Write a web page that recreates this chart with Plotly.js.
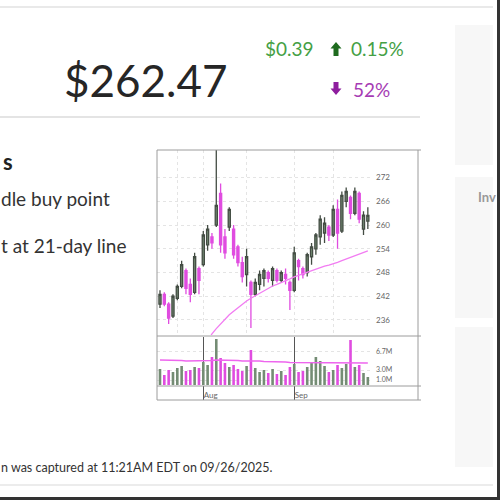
<!DOCTYPE html>
<html>
<head>
<meta charset="utf-8">
<script src="https://cdn.plot.ly/plotly-3.0.1.min.js"></script>
<style>
  html, body { margin: 0; padding: 0; background: #fff; overflow: hidden; }
  #chart { width: 500px; height: 500px; }
</style>
</head>
<body>
<div id="chart"></div>
<script>
// Trading days shown on the daily chart
const dates = [
  "2025-07-18","2025-07-21","2025-07-22","2025-07-23","2025-07-24","2025-07-25",
  "2025-07-28","2025-07-29","2025-07-30","2025-07-31",
  "2025-08-01","2025-08-04","2025-08-05","2025-08-06","2025-08-07","2025-08-08",
  "2025-08-11","2025-08-12","2025-08-13","2025-08-14","2025-08-15",
  "2025-08-18","2025-08-19","2025-08-20","2025-08-21","2025-08-22",
  "2025-08-25","2025-08-26","2025-08-27","2025-08-28","2025-08-29",
  "2025-09-02","2025-09-03","2025-09-04","2025-09-05",
  "2025-09-08","2025-09-09","2025-09-10","2025-09-11","2025-09-12",
  "2025-09-15","2025-09-16","2025-09-17","2025-09-18","2025-09-19",
  "2025-09-22","2025-09-23","2025-09-24","2025-09-25"
];

// Daily prices (USD)
const openPx  = [240.0,242.5,240.0,237.0,241.5,244.5,248.5,245.0,243.0,249.0,250.0,255.0,257.0,260.0,268.0,257.0,259.5,259.0,254.5,250.5,247.5,245.5,242.5,245.0,246.5,248.0,246.0,248.5,246.0,247.5,245.5,243.5,251.0,249.0,248.0,252.0,254.0,257.0,258.0,259.5,257.5,264.0,258.5,266.0,267.0,263.0,268.0,259.0,261.0];
const highPx  = [243.5,243.0,240.5,242.5,245.0,251.0,249.0,246.5,253.0,249.5,258.5,260.0,258.0,279.5,270.5,259.0,264.5,260.0,255.0,252.0,254.0,246.0,246.5,248.5,249.0,248.5,249.5,249.0,248.5,249.0,246.0,254.5,251.5,249.5,253.0,255.5,258.0,262.5,262.0,260.0,265.0,266.5,268.5,269.5,267.5,269.5,268.5,263.5,264.5];
const lowPx   = [239.0,239.5,235.0,236.5,241.0,244.0,242.5,240.5,242.5,242.5,249.5,253.5,254.0,259.5,253.0,251.5,258.5,251.5,249.5,245.5,244.5,234.0,242.0,243.5,244.5,245.5,244.5,245.5,245.5,245.0,238.5,243.0,246.0,246.5,247.0,250.0,252.5,255.0,255.5,256.0,257.0,254.0,258.0,264.5,261.5,262.5,260.5,257.5,259.0];
const closePx = [242.5,240.0,236.5,242.0,244.5,250.0,244.0,242.5,252.0,246.0,257.5,259.0,255.5,265.0,255.0,253.0,264.0,252.5,250.5,247.0,252.0,242.5,245.5,247.5,248.5,246.5,249.0,246.0,248.0,246.5,243.5,253.0,249.5,247.5,252.5,254.5,257.5,261.5,260.5,257.5,264.0,258.0,267.5,268.5,263.0,268.5,261.5,262.5,262.47];

// Moving average line (USD), starts partway through the window
const movingAvg = [null,null,null,null,null,null,null,null,null,null,null,
  230.5,232.5,233.8,235.0,236.2,237.3,238.2,239.1,240.0,240.8,241.5,242.1,242.8,243.5,
  244.1,244.6,245.0,245.4,245.9,246.4,246.9,247.3,247.7,248.2,248.6,249.0,249.3,249.6,
  249.9,250.2,250.6,251.0,251.4,251.8,252.3,252.7,253.1,253.5];

// Daily volume (millions of shares) and its average
const volumeM = [3.2,2.0,3.0,2.6,3.4,3.8,2.8,3.0,3.6,3.4,4.6,4.0,5.6,9.2,5.4,4.4,3.6,4.0,3.2,2.8,3.8,7.0,3.4,2.6,3.0,2.4,3.2,2.2,2.8,2.0,3.6,4.2,2.6,2.8,3.6,4.4,5.6,4.8,3.8,2.6,3.0,4.0,3.4,4.2,9.0,3.6,4.0,2.4,1.6];
const volumeAvgM = [5.0,5.0,4.9,4.9,4.9,4.9,4.8,4.8,4.8,4.8,4.8,4.8,4.9,5.0,5.0,5.0,4.9,4.9,4.9,4.8,4.8,4.9,4.8,4.8,4.7,4.7,4.7,4.6,4.6,4.6,4.5,4.5,4.5,4.5,4.5,4.5,4.5,4.5,4.5,4.4,4.4,4.4,4.4,4.4,4.5,4.5,4.5,4.4,4.4];

// Axis labels
const priceTicks = [236, 242, 248, 254, 260, 266, 272];
const volTicks = [1.0, 3.0, 6.7];
const volTickText = ["1.0M", "3.0M", "6.7M"];
const monthTicks = ["2025-08-01", "2025-09-02"];
const monthText = ["Aug", "Sep"];
const gridDays = ["2025-07-24", "2025-08-01", "2025-08-15", "2025-09-02", "2025-09-15"];

// Header quote
const lastPrice = "$262.47";
const changeAmt = "$0.39";
const changePct = "0.15%";
const volChange = "52%";

const UP_LINE = "#434c43", UP_FILL = "#748c74";
const DOWN = "#e04ce0";
const volColors = closePx.map((c, i) => c >= openPx[i] ? UP_FILL : DOWN);

// page pixel -> paper fraction
const px = x => x / 500;
const py = y => 1 - y / 500;

const traces = [
  {
    type: "candlestick", x: dates, open: openPx, high: highPx, low: lowPx, close: closePx,
    xaxis: "x", yaxis: "y",
    increasing: { line: { color: UP_LINE, width: 1.3 }, fillcolor: UP_FILL },
    decreasing: { line: { color: DOWN, width: 1.3 }, fillcolor: DOWN },
    whiskerwidth: 0, hoverinfo: "skip"
  },
  {
    type: "scatter", mode: "lines", x: dates, y: movingAvg, xaxis: "x", yaxis: "y",
    line: { color: "#f27cf2", width: 1.3 }, hoverinfo: "skip"
  },
  {
    type: "bar", x: dates, y: volumeM, xaxis: "x2", yaxis: "y2",
    marker: { color: volColors, line: { width: 0 } }, width: 0.6, hoverinfo: "skip"
  },
  {
    type: "scatter", mode: "lines", x: dates, y: volumeAvgM, xaxis: "x2", yaxis: "y2",
    line: { color: "#ee66ee", width: 1.3 }, hoverinfo: "skip"
  }
];

const xRange = [-0.69, 48.96];
const gridStyle = { showgrid: true, gridcolor: "#e4e4e4", griddash: "dot", gridwidth: 1 };

const shapes = [
  // page rules and side panels
  { type: "line", xref: "paper", yref: "paper", x0: px(0), x1: px(493), y0: py(7), y1: py(7), line: { color: "#e9e9e9", width: 2 } },
  { type: "line", xref: "paper", yref: "paper", x0: px(0), x1: px(420), y0: py(117), y1: py(117), line: { color: "#e4e4e4", width: 2 } },
  { type: "line", xref: "paper", yref: "paper", x0: px(0), x1: px(493), y0: py(485), y1: py(485), line: { color: "#ececec", width: 2 } },
  { type: "rect", xref: "paper", yref: "paper", x0: px(455), x1: px(493), y0: py(25), y1: py(165), fillcolor: "#f7f7f7", line: { width: 0 }, layer: "below" },
  { type: "rect", xref: "paper", yref: "paper", x0: px(455), x1: px(493), y0: py(177), y1: py(318), fillcolor: "#f7f7f7", line: { width: 0 }, layer: "below" },
  { type: "rect", xref: "paper", yref: "paper", x0: px(455), x1: px(493), y0: py(327), y1: py(467), fillcolor: "#f7f7f7", line: { width: 0 }, layer: "below" },
  { type: "line", xref: "paper", yref: "paper", x0: px(498.5), x1: px(498.5), y0: 0, y1: 1, line: { color: "#333", width: 3 } },
  { type: "line", xref: "paper", yref: "paper", x0: 0, x1: 1, y0: py(498.5), y1: py(498.5), line: { color: "#333", width: 3 } },
  // chart frame
  { type: "rect", xref: "paper", yref: "paper", x0: px(157), x1: px(418), y0: py(150), y1: py(400), line: { color: "#9c9c9c", width: 1 } },
  { type: "line", xref: "paper", yref: "paper", x0: px(157), x1: px(421), y0: py(336), y1: py(336), line: { color: "#9c9c9c", width: 1 } },
  { type: "line", xref: "paper", yref: "paper", x0: px(157), x1: px(421), y0: py(386), y1: py(386), line: { color: "#9c9c9c", width: 1 } },
  { type: "line", xref: "paper", yref: "paper", x0: px(418), x1: px(421), y0: py(150), y1: py(150), line: { color: "#9c9c9c", width: 1 } },
  { type: "line", xref: "paper", yref: "paper", x0: px(418), x1: px(421), y0: py(400), y1: py(400), line: { color: "#9c9c9c", width: 1 } },
  // up arrow (price change) and down arrow (volume change)
  { type: "path", xref: "paper", yref: "paper", fillcolor: "#1f6b1f", line: { width: 0 },
    path: `M ${px(330.5)} ${py(48.5)} L ${px(336)} ${py(42)} L ${px(341.5)} ${py(48.5)} L ${px(338.5)} ${py(48.5)} L ${px(338.5)} ${py(56)} L ${px(333.5)} ${py(56)} L ${px(333.5)} ${py(48.5)} Z` },
  { type: "path", xref: "paper", yref: "paper", fillcolor: "#8e1e9e", line: { width: 0 },
    path: `M ${px(333.5)} ${py(82)} L ${px(338.5)} ${py(82)} L ${px(338.5)} ${py(88.5)} L ${px(341.5)} ${py(88.5)} L ${px(336)} ${py(95)} L ${px(330.5)} ${py(88.5)} L ${px(333.5)} ${py(88.5)} Z` }
];

const ann = (text, x, y, size, color, extra) => Object.assign({
  text, xref: "paper", yref: "paper", x: px(x), y: py(y), showarrow: false,
  xanchor: "left", yanchor: "middle", font: { size, color }
}, extra || {});

const annotations = [
  ann(lastPrice, 146, 80, 44, "#262626", { xanchor: "center" }),
  ann(changeAmt, 263, 49, 19, "#45a045"),
  ann(changePct, 349, 49, 19, "#45a045"),
  ann(volChange, 351, 90, 19, "#a63cb4"),
  ann("<b>s</b>", 1, 161, 22, "#222"),
  ann("dle buy point", -1, 198, 19, "#333"),
  ann("t at 21-day line", -1, 245, 19, "#333"),
  ann("n was captured at 11:21AM EDT on 09/26/2025.", -1, 467, 12.5, "#333"),
  ann("<b>Inv</b>", 476, 197, 13, "#999")
];

const layout = {
  width: 500, height: 500,
  margin: { l: 0, r: 0, t: 0, b: 0, pad: 0 },
  paper_bgcolor: "#fff", plot_bgcolor: "#fff",
  showlegend: false, dragmode: false,
  font: { family: "Lato, 'Open Sans', sans-serif", color: "#333" },
  xaxis: Object.assign({
    domain: [px(157), px(372)], type: "category", range: xRange, anchor: "y",
    tickvals: gridDays, showticklabels: false, ticks: "", zeroline: false, showline: false,
    rangeslider: { visible: false }, fixedrange: true
  }, gridStyle),
  yaxis: Object.assign({
    domain: [py(335), py(150)], range: [232.2, 279.0], side: "right", anchor: "x",
    tickvals: priceTicks, tickfont: { size: 8, color: "#666" }, ticks: "",
    ticklabelstandoff: 3, zeroline: false, showline: false, fixedrange: true
  }, gridStyle),
  xaxis2: {
    domain: [px(157), px(372)], type: "category", range: xRange, anchor: "y2",
    tickvals: monthTicks, ticktext: monthText, showgrid: true, gridcolor: "#555", gridwidth: 1,
    ticks: "outside", ticklen: 14, tickcolor: "#555", tickwidth: 1,
    ticklabelposition: "outside right", ticklabelstandoff: 2,
    tickfont: { size: 8, color: "#666" }, zeroline: false, showline: false, fixedrange: true
  },
  yaxis2: Object.assign({
    domain: [py(385), py(337)], range: [0, 9.6], side: "right", anchor: "x2",
    tickvals: volTicks, ticktext: volTickText, tickfont: { size: 7, color: "#666" }, ticks: "",
    ticklabelstandoff: 3, zeroline: false, showline: false, fixedrange: true
  }, gridStyle),
  bargap: 0.4,
  shapes, annotations
};

Plotly.newPlot("chart", traces, layout, { staticPlot: true, displayModeBar: false });
</script>
</body>
</html>
